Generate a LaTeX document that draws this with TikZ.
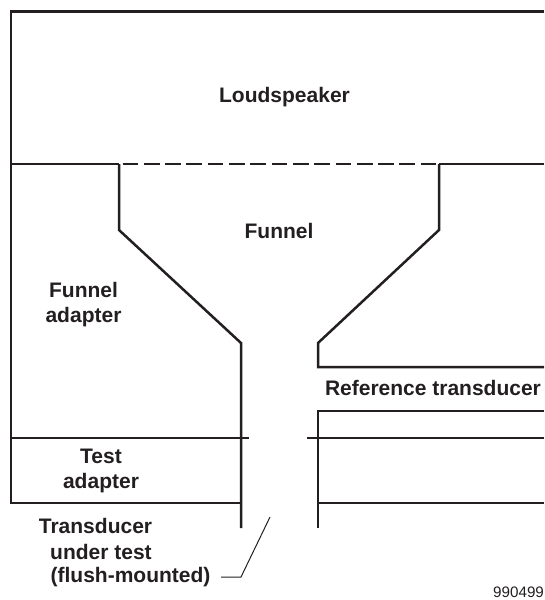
\documentclass[tikz,border=0pt]{standalone}
\usepackage{fontspec}
\setmainfont{Liberation Sans}
\definecolor{ink}{HTML}{231F20}
\tikzset{
  wall/.style={draw=ink,line width=2.5pt,line cap=butt,line join=miter},
  thin wall/.style={draw=ink,line width=1pt},
  dashwall/.style={draw=ink,line width=2.5pt,dash pattern=on 15.7pt off 5.6pt},
  lab/.style={inner sep=0pt,text=ink,font=\fontsize{21pt}{25.5pt}\selectfont\bfseries,align=center},
  code/.style={inner sep=0pt,text=ink,font=\fontsize{15.2pt}{18pt}\selectfont,anchor=base west}
}
\begin{document}
\begin{tikzpicture}[x=1pt,y=-1pt]
\useasboundingbox (0,0) rectangle (544,600);
\coordinate (tr) at (544,11.5);
\coordinate (tl) at (11,11.5);
\coordinate (ml) at (11,164);
\coordinate (mr) at (544,164);
\coordinate (fl) at (119,164);
\coordinate (fr) at (439,164);
\coordinate (sl) at (119,230);
\coordinate (sr) at (439,230);
\coordinate (nl) at (241,343);
\coordinate (nr) at (318,343);
\coordinate (bl) at (241,528);
\coordinate (br) at (318,528);
% outer housing
\draw[wall] (tr) -- (tl) -- (11,503) -- (241,503);
\draw[wall] (ml) -- (fl);
\draw[dashwall] (122.5,164) -- (438,164);
\draw[wall] (fr) -- (mr);
% funnel walls
\draw[wall] (fl) -- (sl) -- (nl) -- (bl);
\draw[wall] (fr) -- (sr) -- (nr) -- (318,367) -- (544,367);
% reference transducer tube
\draw[wall] (544,411) -- (318,411) -- (br);
% adapter plane
\draw[wall] (11,438) -- (249,438);
\draw[wall] (307,438) -- (544,438);
\draw[wall] (318,503) -- (544,503);
% labels
\node[lab] (loud) at (284.5,97) {Loudspeaker};
\node[lab] (funnel) at (279,231) {Funnel};
\node[lab] (fadapt) at (83.5,304.5) {Funnel\\adapter};
\node[lab] (ref) at (433,388) {Reference transducer};
\node[lab] (tadapt) at (101,471) {Test\\adapter};
\node[lab] (tut1) at (95.5,526) {Transducer};
\node[lab] (tut2) at (101,552) {under test};
\node[lab] (tut3) at (130.5,577) {(flush-mounted)};
\node[code] (num) at (493,597) {990499};
% leader
\coordinate (lead top) at (270,517);
\coordinate (lead elbow) at (241,577);
\draw[thin wall] (lead top) -- (lead elbow) -- (221,577);
\end{tikzpicture}
\end{document}
